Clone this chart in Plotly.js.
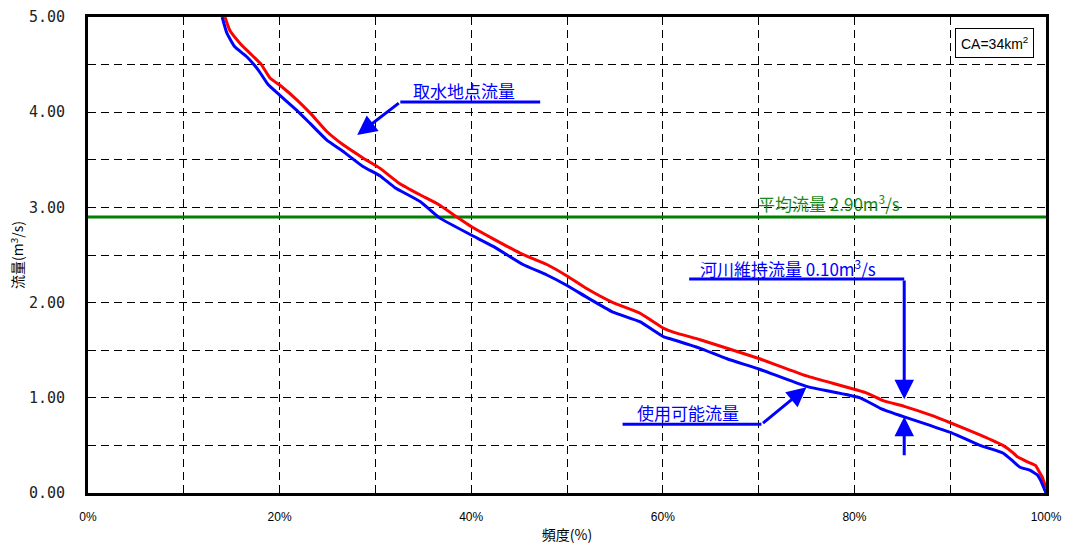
<!DOCTYPE html>
<html>
<head>
<meta charset="utf-8">
<script src="https://cdn.plot.ly/plotly-3.0.1.min.js"></script>
<style>html,body{margin:0;padding:0;background:#fff;}#chart{width:1066px;height:549px;}</style>
</head>
<body>
<div id="chart"></div>
<script>
// 取水地点流量 (intake point flow)
const intakeFreq = [14.3,14.8,15.9,16.9,18.1,19.0,20.2,21.8,23.2,24.9,26.6,28.7,30.5,32.4,34.7,36.6,38.5,40.0,42.3,45.1,47.9,50.0,52.0,54.8,57.6,60.1,61.1,63.9,66.7,70.1,75.0,81.3,83.0,85.2,87.9,90.2,93.1,95.5,96.6,97.0,98.0,98.9,99.2,99.6,100];
const intakeFlow = [5.00,4.86,4.72,4.62,4.50,4.36,4.27,4.13,3.99,3.80,3.66,3.52,3.41,3.26,3.13,3.03,2.90,2.80,2.67,2.52,2.40,2.28,2.15,2.00,1.89,1.73,1.69,1.61,1.52,1.41,1.23,1.05,0.97,0.91,0.82,0.73,0.61,0.50,0.42,0.38,0.33,0.29,0.24,0.17,0.05];
// 使用可能流量 (usable flow)
const usableFreq = [14.0,14.5,15.3,16.6,17.8,18.8,20.0,21.8,23.2,24.9,26.6,28.7,30.5,32.0,34.7,36.7,40.0,42.3,45.4,47.9,50.0,52.0,54.8,57.6,60.1,61.1,63.9,66.7,70.1,75.0,80.6,82.7,85.2,87.9,90.2,93.1,95.5,96.6,97.3,98.3,99.1,99.4,100];
const usableFlow = [5.00,4.83,4.69,4.58,4.44,4.29,4.18,4.02,3.88,3.71,3.59,3.43,3.33,3.21,3.06,2.89,2.71,2.59,2.40,2.29,2.18,2.06,1.90,1.80,1.64,1.61,1.52,1.41,1.30,1.12,1.00,0.89,0.80,0.71,0.63,0.50,0.42,0.33,0.27,0.24,0.19,0.14,0.00];
// 平均流量
const meanFreq = [0, 100];
const meanFlow = [2.90, 2.90];
// ticks
const xTickVals = [0,10,20,30,40,50,60,70,80,90,100];
const xTickText = ['0%','','20%','','40%','','60%','','80%','','100%'];
const yTickVals = [0,0.5,1,1.5,2,2.5,3,3.5,4,4.5,5];
const yTickText = ['0.00','','1.00','','2.00','','3.00','','4.00','','5.00'];

const JP = '"Noto Sans CJK JP", "Noto Sans", sans-serif';
const BLUE = '#0000ff';

const traces = [
  {x: meanFreq, y: meanFlow, mode: 'lines', line: {color: '#008000', width: 3}, hoverinfo: 'skip'},
  {x: intakeFreq, y: intakeFlow, mode: 'lines', line: {color: '#ff0000', width: 3, shape: 'spline', smoothing: 0.4}},
  {x: usableFreq, y: usableFlow, mode: 'lines', line: {color: BLUE, width: 3, shape: 'spline', smoothing: 0.4}}
];

const arrowBase = {showarrow: true, text: '', axref: 'x', ayref: 'y', arrowcolor: BLUE, arrowwidth: 3, arrowhead: 2, arrowsize: 1.3, standoff: 0, startstandoff: 0};

const layout = {
  width: 1066, height: 549,
  margin: {l: 88, r: 20, t: 17, b: 56},
  paper_bgcolor: '#fff', plot_bgcolor: '#fff',
  showlegend: false,
  xaxis: {
    range: [0, 100], tickvals: xTickVals, ticktext: xTickText,
    ticks: 'inside', ticklen: 6, tickcolor: '#000', tickwidth: 1,
    showline: true, linecolor: '#000', linewidth: 3, mirror: true,
    showgrid: true, gridcolor: '#000', gridwidth: 1, griddash: '8px,5px',
    zeroline: false, ticklabelstandoff: 11,
    tickfont: {family: 'Liberation Sans, Arial, sans-serif', size: 12, color: '#000'},
    title: {text: '頻度(%)', font: {family: JP, size: 14, color: '#000'}, standoff: 7}
  },
  yaxis: {
    range: [0, 5], tickvals: yTickVals, ticktext: yTickText,
    ticks: 'inside', ticklen: 6, tickcolor: '#000', tickwidth: 1,
    showline: true, linecolor: '#000', linewidth: 3, mirror: true,
    showgrid: true, gridcolor: '#000', gridwidth: 1, griddash: '8px,5px',
    zeroline: false, ticklabelstandoff: 17,
    tickfont: {family: '"DejaVu Sans Mono", monospace', size: 15, color: '#222'},
    title: {text: '流量(m<sup>3</sup>/s)', font: {family: JP, size: 14, color: '#000'}, standoff: 2}
  },
  shapes: [
    {type: 'line', xref: 'x', yref: 'y', x0: 32.6, x1: 47.2, y0: 4.107, y1: 4.107, line: {color: BLUE, width: 3}},
    {type: 'line', xref: 'x', yref: 'y', x0: 62.75, x1: 85.2, y0: 2.248, y1: 2.248, line: {color: BLUE, width: 3}},
    {type: 'line', xref: 'x', yref: 'y', x0: 55.8, x1: 70.3, y0: 0.722, y1: 0.722, line: {color: BLUE, width: 3}}
  ],
  annotations: [
    Object.assign({}, arrowBase, {x: 28.1, y: 3.76, ax: 32.6, ay: 4.107}),
    Object.assign({}, arrowBase, {x: 85.2, y: 0.984, ax: 85.2, ay: 2.248}),
    Object.assign({}, arrowBase, {x: 85.2, y: 0.80, ax: 85.2, ay: 0.381}),
    Object.assign({}, arrowBase, {x: 75.0, y: 1.11, ax: 70.3, ay: 0.722}),
    {x: 39.2, y: 4.233, xref: 'x', yref: 'y', text: '取水地点流量', showarrow: false, font: {family: JP, size: 17, color: BLUE}},
    {x: 77.4, y: 3.043, xref: 'x', yref: 'y', text: '平均流量 2.90m<sup>3</sup>/s', showarrow: false, font: {family: JP, size: 17, color: '#1a8a1a'}},
    {x: 73.1, y: 2.36, xref: 'x', yref: 'y', text: '河川維持流量 0.10m<sup>3</sup>/s', showarrow: false, font: {family: JP, size: 17, color: BLUE}},
    {x: 62.6, y: 0.843, xref: 'x', yref: 'y', text: '使用可能流量', showarrow: false, font: {family: JP, size: 17, color: BLUE}},
    {x: 94.6, y: 4.727, xref: 'x', yref: 'y', text: 'CA=34km<sup>2</sup>', showarrow: false, bordercolor: '#000', borderwidth: 1, borderpad: 5, bgcolor: '#fff', font: {family: 'Liberation Sans, Arial, sans-serif', size: 14, color: '#000'}}
  ]
};

Plotly.newPlot('chart', traces, layout, {displayModeBar: false, staticPlot: true});
</script>
</body>
</html>
